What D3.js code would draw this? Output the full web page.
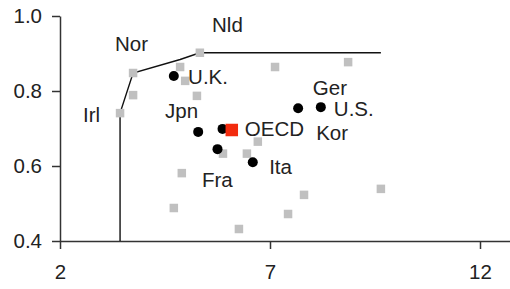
<!DOCTYPE html>
<html>
<head>
<meta charset="utf-8">
<script src="https://cdn.jsdelivr.net/npm/d3@7"></script>
<style>
  body { margin: 0; background: #fff; }
  svg { display: block; font-family: "Liberation Sans", Arial, sans-serif; }
</style>
</head>
<body>
<div id="chart-area"></div>
<script>
// other OECD countries (grey squares)
var otherX = [3.43, 3.74, 5.33, 3.74, 4.86, 4.98, 5.26, 7.12, 8.86, 6.71, 5.88, 6.45, 4.90, 4.71, 6.26, 7.43, 7.81, 9.64];
var otherY = [0.741, 0.848, 0.902, 0.789, 0.864, 0.827, 0.787, 0.864, 0.877, 0.665, 0.633, 0.633, 0.581, 0.488, 0.432, 0.472, 0.523, 0.539];

// highlighted countries (black dots)
var dotX = [4.71, 5.29, 5.87, 5.75, 6.59, 7.67, 8.21];
var dotY = [0.840, 0.691, 0.699, 0.645, 0.610, 0.754, 0.757];

// OECD average
var oecdX = [6.09];
var oecdY = [0.696];

// efficiency frontier
var frontX = [3.43, 3.43, 3.74, 4.86, 5.33, 9.64];
var frontY = [0.40, 0.741, 0.848, 0.884, 0.902, 0.902];

// labels: text, anchor (start x, baseline) in data units
var labelText = ["Nor", "Nld", "Irl", "U.K.", "Jpn", "OECD", "Fra", "Ita", "Ger", "U.S.", "Kor"];
var labelX = [3.31, 5.62, 2.55, 5.05, 4.50, 6.40, 5.38, 6.98, 8.02, 8.52, 8.10];
var labelY = [0.907, 0.957, 0.717, 0.819, 0.728, 0.680, 0.544, 0.579, 0.789, 0.733, 0.669];

var xTicks = [2, 7, 12];
var yTicks = [0.4, 0.6, 0.8, 1.0];

var width = 510, height = 289;

var x = d3.scaleLinear().domain([2, 13]).range([60, 522]);
var y = d3.scaleLinear().domain([0.4, 1.0]).range([241, 16]);

var svg = d3.select("#chart-area")
  .append("svg")
    .attr("width", width)
    .attr("height", height);

// axes
var xAxisGroup = svg.append("g")
    .attr("transform", "translate(0," + y(0.4) + ")")
    .call(d3.axisBottom(x).tickValues(xTicks).tickSize(8).tickSizeOuter(0).tickPadding(15)
      .tickFormat(d3.format("d")));

var yAxisGroup = svg.append("g")
    .attr("transform", "translate(" + x(2) + ",0)")
    .call(d3.axisLeft(y).tickValues(yTicks).tickSize(8).tickSizeOuter(0).tickPadding(10)
      .tickFormat(d3.format(".1f")));

svg.selectAll(".domain, .tick line")
    .attr("stroke", "#333")
    .attr("stroke-width", 1.5);
svg.selectAll(".tick text")
    .attr("fill", "#222")
    .attr("font-size", "20.5px")
    .attr("font-family", "'Liberation Sans', Arial, sans-serif");

// frontier line
var front = frontX.map(function(d, i) { return [d, frontY[i]]; });
svg.append("path")
    .datum(front)
    .attr("fill", "none")
    .attr("stroke", "#111")
    .attr("stroke-width", 1.4)
    .attr("d", d3.line().x(function(d) { return x(d[0]); }).y(function(d) { return y(d[1]); }));

// grey squares
var s = 8.5;
svg.selectAll("rect.other")
  .data(otherX)
  .enter().append("rect")
    .attr("class", "other")
    .attr("x", function(d) { return x(d) - s / 2; })
    .attr("y", function(d, i) { return y(otherY[i]) - s / 2; })
    .attr("width", s)
    .attr("height", s)
    .attr("fill", "#c0c0c0");

// black dots
svg.selectAll("circle.dot")
  .data(dotX)
  .enter().append("circle")
    .attr("class", "dot")
    .attr("cx", function(d) { return x(d); })
    .attr("cy", function(d, i) { return y(dotY[i]); })
    .attr("r", 5)
    .attr("fill", "#000");

// OECD square
var so = 12.5;
svg.selectAll("rect.oecd")
  .data(oecdX)
  .enter().append("rect")
    .attr("class", "oecd")
    .attr("x", function(d) { return x(d) - so / 2; })
    .attr("y", function(d, i) { return y(oecdY[i]) - so / 2; })
    .attr("width", so)
    .attr("height", so)
    .attr("fill", "#f22b0e");

// labels
svg.selectAll("text.lbl")
  .data(labelText)
  .enter().append("text")
    .attr("class", "lbl")
    .attr("x", function(d, i) { return x(labelX[i]); })
    .attr("y", function(d, i) { return y(labelY[i]); })
    .attr("font-size", "20.5px")
    .attr("fill", "#222")
    .text(function(d) { return d; });
</script>
</body>
</html>
